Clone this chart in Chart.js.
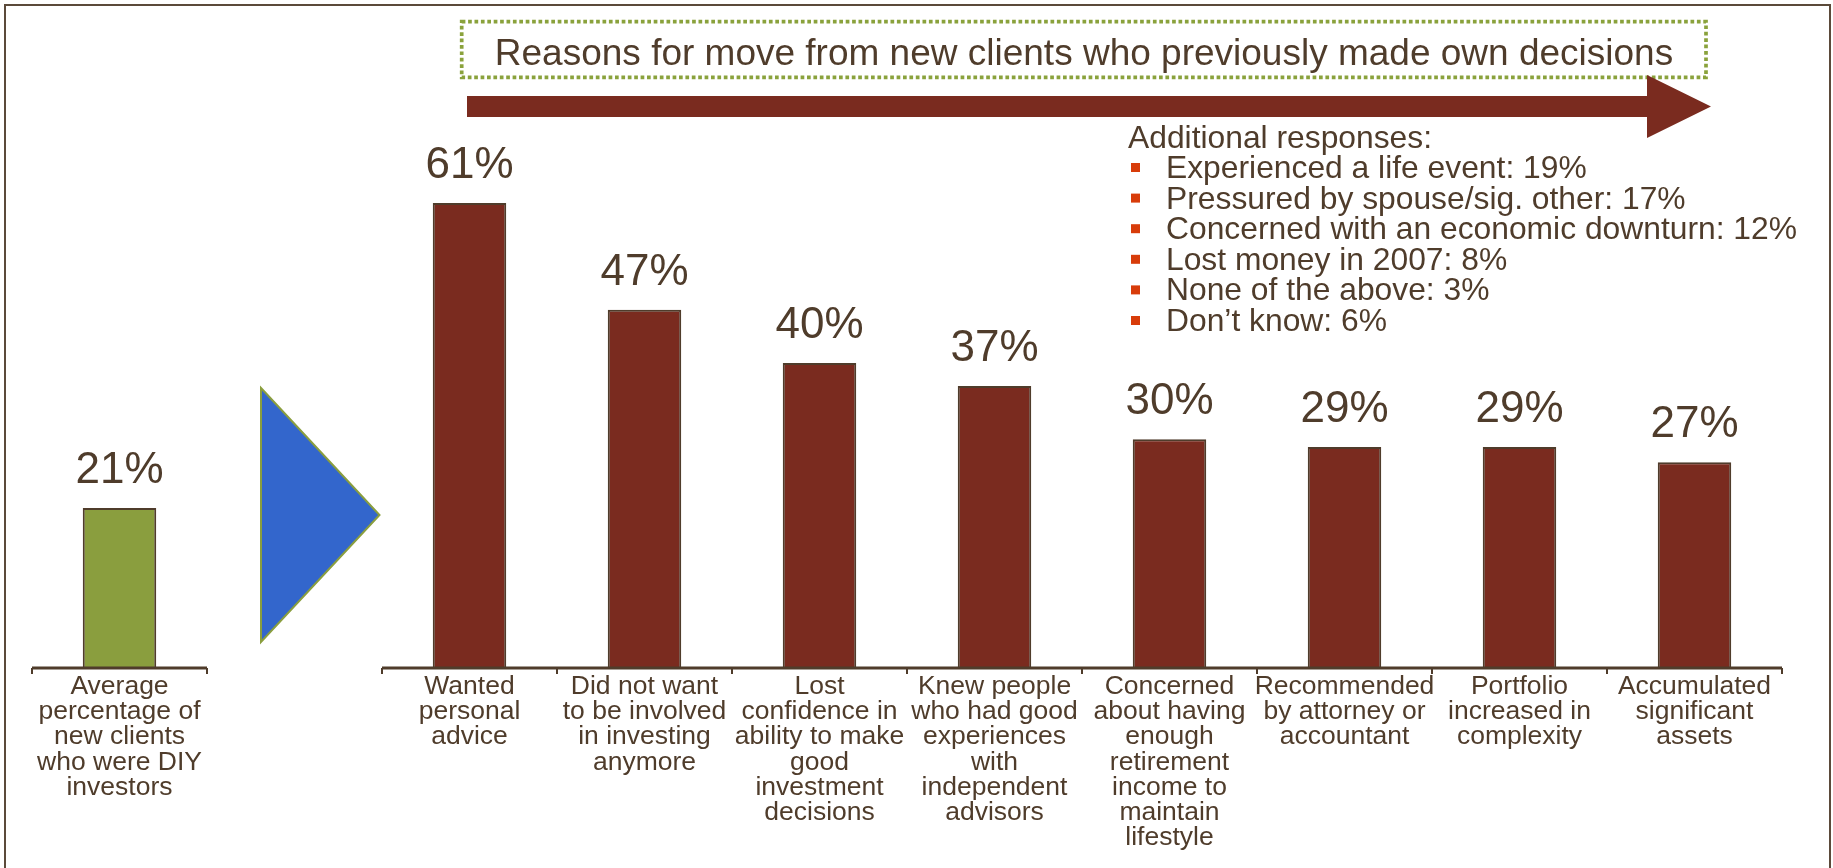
<!DOCTYPE html>
<html>
<head>
<meta charset="utf-8">
<title>Reasons for move from new clients who previously made own decisions</title>
<script src="https://cdn.jsdelivr.net/npm/chart.js@4.4.1/dist/chart.umd.min.js"></script>
<style>
  body { margin: 0; background: #fff; }
  canvas { display: block; }
</style>
</head>
<body>
<canvas id="move-reasons" width="1833" height="868"></canvas>
<script>
var diyLabel = ["Average", "percentage of", "new clients", "who were DIY", "investors"];
var diyShare = 21;

var reasonLabels = [
  ["Wanted", "personal", "advice"],
  ["Did not want", "to be involved", "in investing", "anymore"],
  ["Lost", "confidence in", "ability to make", "good", "investment", "decisions"],
  ["Knew people", "who had good", "experiences", "with", "independent", "advisors"],
  ["Concerned", "about having", "enough", "retirement", "income to", "maintain", "lifestyle"],
  ["Recommended", "by attorney or", "accountant"],
  ["Portfolio", "increased in", "complexity"],
  ["Accumulated", "significant", "assets"]
];
var reasonShares = [61, 47, 40, 37, 30, 29, 29, 27];

var extraLabels = [
  "Experienced a life event",
  "Pressured by spouse/sig. other",
  "Concerned with an economic downturn",
  "Lost money in 2007",
  "None of the above",
  "Don\u2019t know"
];
var extraShares = [19, 17, 12, 8, 3, 6];

var titleText = "Reasons for move from new clients who previously made own decisions";

var FONT = '"Liberation Sans", Arial, Helvetica, sans-serif';
var textBrown = "#4f3c2b";
var barRed = "#7a2b1f";
var olive = "#8a9e3e";

// one empty slot between the DIY bar and the reasons, where the pointer sits
var labels = [diyLabel, ""].concat(reasonLabels);
var values = [diyShare, null].concat(reasonShares);
var fills = values.map(function (v, i) { return i === 0 ? olive : barRed; });

// axis line in two pieces, leaving the gap under the pointer open
const splitAxis = {
  id: "splitAxis",
  afterDatasetsDraw(chart) {
    const ctx = chart.ctx;
    const x = chart.scales.x;
    const y = chart.chartArea.bottom;
    ctx.save();
    ctx.strokeStyle = textBrown;
    ctx.lineWidth = 3;
    ctx.beginPath();
    ctx.moveTo(x.left, y);
    ctx.lineTo(x.getPixelForValue(0.5), y);
    ctx.moveTo(x.getPixelForValue(1.5), y);
    ctx.lineTo(x.right, y);
    ctx.stroke();
    ctx.restore();
  }
};

const valueLabels = {
  id: "valueLabels",
  afterDatasetsDraw(chart) {
    const ctx = chart.ctx;
    const meta = chart.getDatasetMeta(0);
    ctx.save();
    ctx.font = "44px " + FONT;
    ctx.fillStyle = textBrown;
    ctx.textAlign = "center";
    ctx.textBaseline = "alphabetic";
    meta.data.forEach(function (bar, i) {
      const v = chart.data.datasets[0].data[i];
      if (v == null) return;
      ctx.fillText(v + "%", bar.x, bar.y - 25);
    });
    ctx.restore();
  }
};

const decorations = {
  id: "decorations",
  afterDraw(chart) {
    const ctx = chart.ctx;
    ctx.save();

    // frame
    ctx.strokeStyle = "#5b4a3a";
    ctx.lineWidth = 2;
    ctx.beginPath();
    ctx.moveTo(5, 868);
    ctx.lineTo(5, 5);
    ctx.lineTo(1830, 5);
    ctx.lineTo(1830, 868);
    ctx.stroke();

    // dotted title box
    ctx.strokeStyle = "#8aa23c";
    ctx.lineWidth = 3.7;
    ctx.setLineDash([3.7, 2.7]);
    ctx.strokeRect(461.7, 21.7, 1244.3, 55.6);
    ctx.setLineDash([]);

    ctx.font = "37px " + FONT;
    ctx.fillStyle = textBrown;
    ctx.textAlign = "center";
    ctx.textBaseline = "alphabetic";
    ctx.fillText(titleText, 1084, 65);

    // big arrow under the title
    ctx.fillStyle = barRed;
    ctx.beginPath();
    ctx.moveTo(467, 96);
    ctx.lineTo(1647, 96);
    ctx.lineTo(1647, 75);
    ctx.lineTo(1711, 106.5);
    ctx.lineTo(1647, 138);
    ctx.lineTo(1647, 117);
    ctx.lineTo(467, 117);
    ctx.closePath();
    ctx.fill();

    // pointer between the two groups
    ctx.fillStyle = "#3366cc";
    ctx.strokeStyle = olive;
    ctx.lineWidth = 2;
    ctx.beginPath();
    ctx.moveTo(261, 388);
    ctx.lineTo(379.5, 515);
    ctx.lineTo(261, 642);
    ctx.closePath();
    ctx.fill();
    ctx.stroke();

    // additional responses list
    ctx.font = "31.8px " + FONT;
    ctx.textAlign = "left";
    ctx.fillStyle = textBrown;
    ctx.fillText("Additional responses:", 1128, 147.5);
    extraLabels.forEach(function (label, i) {
      const base = 178 + i * 30.6;
      ctx.fillStyle = "#d83c0a";
      ctx.fillRect(1131, base - 15, 9, 9);
      ctx.fillStyle = textBrown;
      ctx.fillText(label + ": " + extraShares[i] + "%", 1166, base);
    });

    ctx.restore();
  }
};

new Chart(document.getElementById("move-reasons"), {
  type: "bar",
  data: {
    labels: labels,
    datasets: [{
      data: values,
      backgroundColor: fills,
      borderColor: textBrown,
      borderWidth: 2,
      categoryPercentage: 1,
      barPercentage: 0.42
    }]
  },
  options: {
    responsive: false,
    animation: false,
    devicePixelRatio: 1,
    layout: { padding: { top: 58, left: 32, right: 51, bottom: 0 } },
    plugins: {
      legend: { display: false },
      tooltip: { enabled: false }
    },
    scales: {
      x: {
        border: { display: false },
        grid: {
          drawOnChartArea: false,
          drawTicks: true,
          tickLength: 6,
          color: textBrown,
          lineWidth: 2
        },
        ticks: {
          autoSkip: false,
          maxRotation: 0,
          minRotation: 0,
          padding: 0,
          color: textBrown,
          font: { family: FONT, size: 26.5, lineHeight: 0.951 }
        },
        afterFit: function (axis) { axis.height = 200; }
      },
      y: {
        display: false,
        min: 0,
        max: 80
      }
    }
  },
  plugins: [splitAxis, valueLabels, decorations]
});
</script>
</body>
</html>
